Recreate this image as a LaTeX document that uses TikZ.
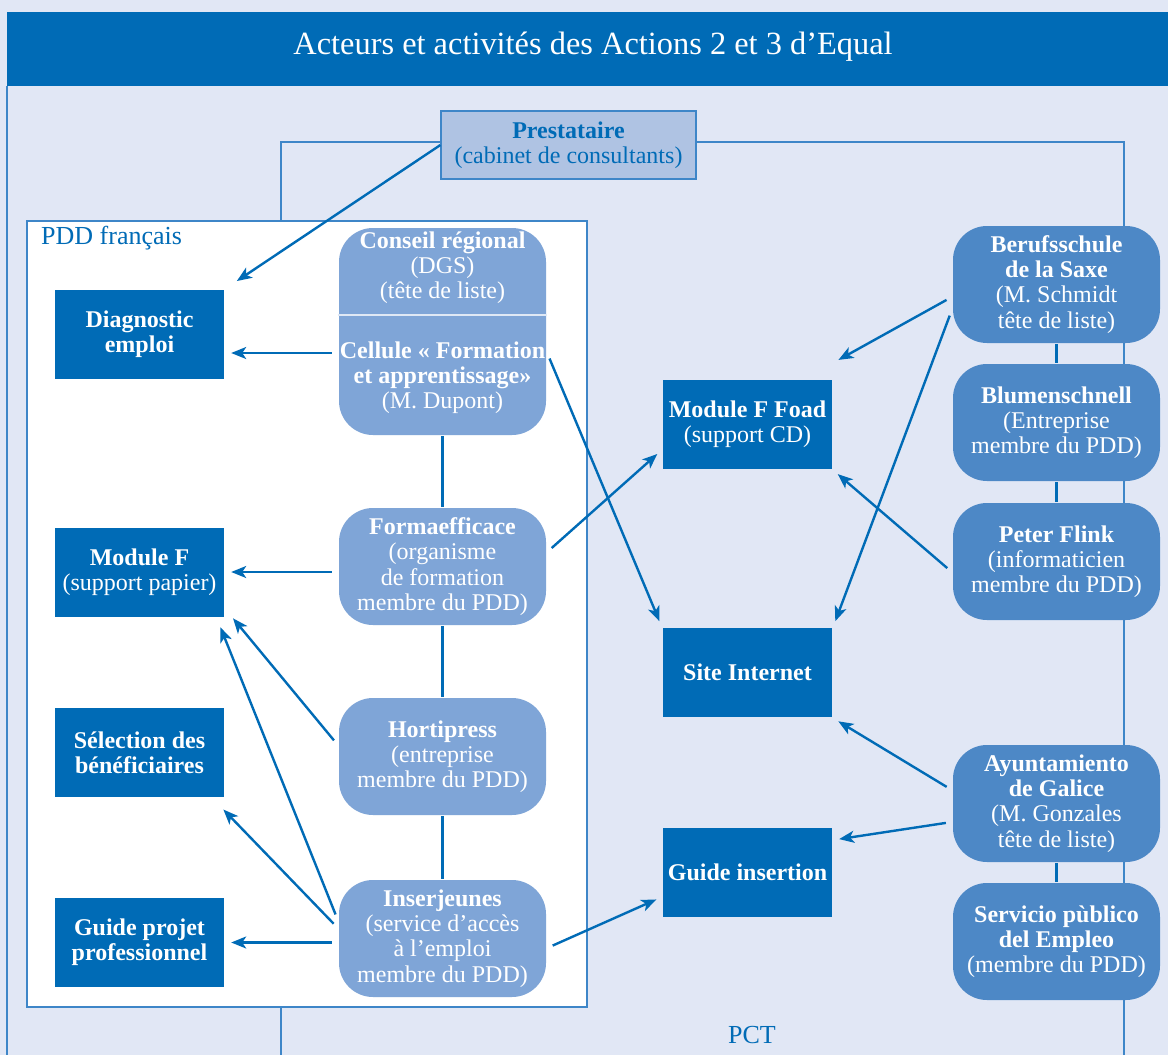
\documentclass[tikz,border=0pt]{standalone}
\usepackage{fontspec}
\setmainfont{Liberation Serif}
\usetikzlibrary{arrows.meta}

\definecolor{fond}{RGB}{225,231,245}
\definecolor{bleu}{RGB}{0,107,182}
\definecolor{bleuclair}{RGB}{127,165,215}
\definecolor{bleumoyen}{RGB}{77,136,198}
\definecolor{bleupresta}{RGB}{175,195,227}
\definecolor{trait}{RGB}{62,134,200}

\def\boxwidth{84.5pt}
\def\roundwidth{103.5pt}
\def\txt{\fontsize{12}{12.6}\selectfont}

\begin{document}
\begin{tikzpicture}[x=0.5pt,y=-0.5pt,->,>={Stealth[length=7.5pt,width=6pt,inset=2pt]},shorten >=3pt,shorten <=3pt,draw=bleu,line width=1.2pt]
	\tikzstyle{action}=[rectangle,fill=bleu,text=white,minimum width=\boxwidth,minimum height=44.5pt,inner sep=0pt,align=center,font=\txt]
	\tikzstyle{acteur}=[rectangle,rounded corners=17pt,fill=bleuclair,text=white,minimum width=\roundwidth,minimum height=58.5pt,inner sep=0pt,align=center,font=\txt]
	\tikzstyle{partenaire}=[acteur,fill=bleumoyen]
	\tikzstyle{presta}=[rectangle,draw=trait,line width=0.6pt,fill=bleupresta,text=bleu,minimum width=127.5pt,minimum height=34pt,inner sep=0pt,align=center,font=\txt]
	\tikzstyle{cadre}=[-,shorten >=0pt,shorten <=0pt,draw=trait,line width=0.6pt]
	\tikzstyle{lien}=[-,shorten >=0pt,shorten <=0pt]

	% Fond et titre
	\useasboundingbox (0,0) rectangle (1168,1055);
	\fill[fond] (0,0) rectangle (1168,1055);
	\fill[bleu] (7,12) rectangle (1168,86);
	\node[text=white,font=\fontsize{16.2}{19}\selectfont] (titre) at (593,47) {Acteurs et activités des Actions 2 et 3 d’Equal};
	\draw[cadre] (7,86) -- (7,1055);

	% Prestataire et PCT
	\node[presta] (prest) at (568.5,145) {\textbf{Prestataire}\\(cabinet de consultants)};
	\draw[cadre] (prest.west |- 0,142) -| (281,1055);
	\draw[cadre] (prest.east |- 0,142) -| (1124,1055);
	\node[text=bleu,font=\fontsize{13}{15}\selectfont] (pct) at (752,1035) {PCT};

	% PDD francais
	\draw[cadre,fill=white] (27,221) rectangle (587,1007);
	\node[text=bleu,font=\fontsize{13}{15}\selectfont,anchor=west,inner sep=0pt] (pdd) at (40,238) {PDD français};

	% Activites du PDD
	\node[action] (diag) at (139.5,334.5) {\textbf{Diagnostic}\\\textbf{emploi}};
	\node[action] (modf) at (139.5,572) {\textbf{Module F}\\(support papier)};
	\node[action] (selec) at (139.5,752.5) {\textbf{Sélection des}\\\textbf{bénéficiaires}};
	\node[action] (guidepp) at (139.5,942.5) {\textbf{Guide projet}\\\textbf{professionnel}};

	% Acteurs du PDD
	\node[acteur,minimum height=103.5pt] (conseil) at (442.5,331.5) {};
	\node[text=white,align=center,font=\txt,inner sep=0pt] (crtext) at (442.5,268) {\textbf{Conseil régional}\\(DGS)\\(tête de liste)};
	\node[text=white,align=center,font=\txt,inner sep=0pt] (celltext) at (442.5,378) {\textbf{Cellule « Formation}\\\textbf{et apprentissage»}\\(M. Dupont)};
	\draw[lien,draw=white!75!bleuclair,line width=0.6pt] (conseil.west |- 0,315) -- (conseil.east |- 0,315);
	\node[acteur] (forma) at (442.5,566.5) {\textbf{Formaefficace}\\(organisme\\de formation\\membre du PDD)};
	\node[acteur] (horti) at (442.5,756.5) {\textbf{Hortipress}\\(entreprise\\membre du PDD)};
	\node[acteur] (inser) at (442.5,938.5) {\textbf{Inserjeunes}\\(service d’accès\\à l’emploi\\membre du PDD)};
	\draw[lien] (conseil.south) -- (forma.north);
	\draw[lien] (forma.south) -- (horti.north);
	\draw[lien] (horti.south) -- (inser.north);

	% Produits communs
	\node[action] (foad) at (747.5,424.5) {\textbf{Module F Foad}\\(support CD)};
	\node[action] (site) at (747.5,672.5) {\textbf{Site Internet}};
	\node[action] (guideins) at (747.5,872.5) {\textbf{Guide insertion}};

	% Partenaires
	\node[partenaire] (beruf) at (1056.5,284.5) {\textbf{Berufsschule}\\\textbf{de la Saxe}\\(M. Schmidt\\tête de liste)};
	\node[partenaire] (blumen) at (1056.5,422.5) {\textbf{Blumenschnell}\\(Entreprise\\membre du PDD)};
	\node[partenaire] (peter) at (1056.5,561.5) {\textbf{Peter Flink}\\(informaticien\\membre du PDD)};
	\node[partenaire] (ayun) at (1056.5,803.5) {\textbf{Ayuntamiento}\\\textbf{de Galice}\\(M. Gonzales\\tête de liste)};
	\node[partenaire] (servicio) at (1056.5,941.5) {\textbf{Servicio pùblico}\\\textbf{del Empleo}\\(membre du PDD)};
	\draw[lien] (beruf.south) -- (blumen.north);
	\draw[lien] (blumen.south) -- (peter.north);
	\draw[lien] (ayun.south) -- (servicio.north);

	% Fleches
	\path (prest.west) edge[shorten <=0pt,shorten >=7pt] (diag.north east);
	\path ([yshift=-10.75pt]conseil.west) edge ([yshift=-9.25pt]diag.east);
	\path ([yshift=-10.75pt]conseil.east) edge (site.north west);
	\path (forma.west |- modf.east) edge (modf.east);
	\path ([yshift=7.25pt]forma.east) edge ([yshift=-12.75pt]foad.west);
	\path ([yshift=5.75pt]horti.west) edge ([xshift=2pt,yshift=2pt]modf.south east);
	\path ([yshift=9.25pt]inser.west) edge ([xshift=-3.5pt,yshift=-2pt]modf.south east);
	\path ([yshift=5.25pt]inser.west) edge ([xshift=-3pt,yshift=-3.5pt]selec.south east);
	\path (inser.west |- guidepp.east) edge (guidepp.east);
	\path ([yshift=-4.75pt]inser.east) edge ([yshift=-12.25pt]guideins.west);
	\path ([yshift=-6.25pt]beruf.west) edge ([yshift=8pt]foad.north east);
	\path ([yshift=-12.75pt]beruf.west) edge (site.north east);
	\path ([yshift=-5.25pt]peter.west) edge (foad.south east);
	\path ([yshift=6.75pt]ayun.west) edge (site.south east);
	\path ([yshift=-9.25pt]ayun.west) edge ([yshift=16.25pt]guideins.east);

\end{tikzpicture}
\end{document}
